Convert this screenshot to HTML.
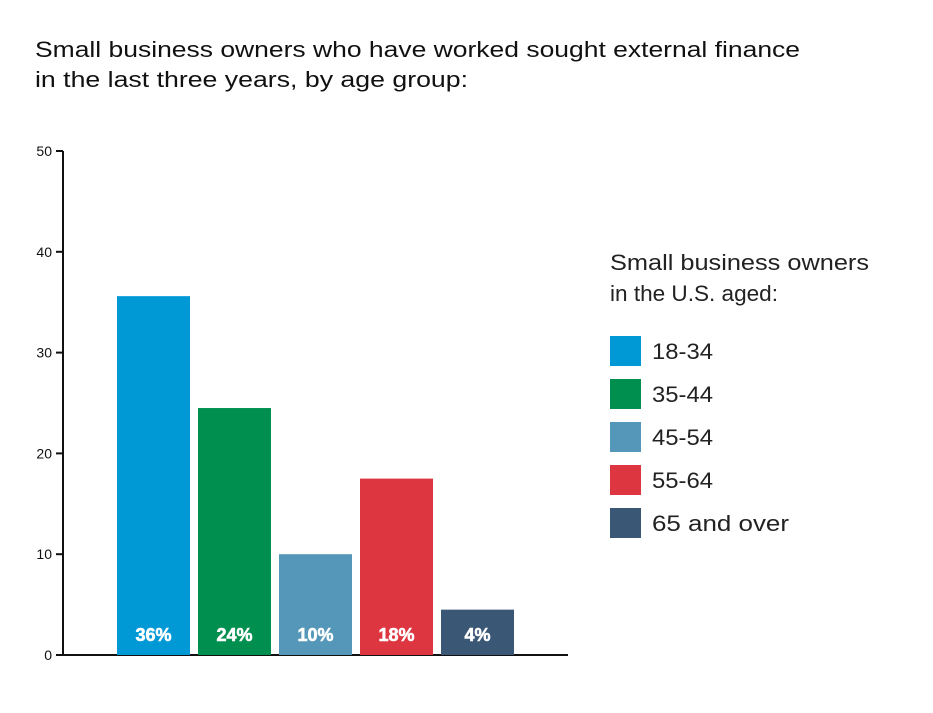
<!DOCTYPE html>
<html><head><meta charset="utf-8"><style>
body{margin:0;background:#fff;width:933px;height:708px;overflow:hidden;font-family:"Liberation Sans",sans-serif}
</style></head><body>
<svg width="933" height="708">
<text x="35" y="57" font-size="22" fill="#111" textLength="765" lengthAdjust="spacingAndGlyphs">Small business owners who have worked sought external finance</text>
<text x="35" y="87" font-size="22" fill="#111" textLength="433" lengthAdjust="spacingAndGlyphs">in the last three years, by age group:</text>
<g id="axes"></g>
<g id="bars"></g>
<text x="610" y="270" font-size="22" fill="#222" textLength="259" lengthAdjust="spacingAndGlyphs">Small business owners</text>
<text x="610" y="301" font-size="22" fill="#222" textLength="168" lengthAdjust="spacingAndGlyphs">in the U.S. aged:</text>
<g id="legend"></g>
</svg>
<script>
const categories=["18-34","35-44","45-54","55-64","65 and over"];
const values=[35.6,24.5,10,17.5,4.5];
const labels=["36%","24%","10%","18%","4%"];
const ticks=[0,10,20,30,40,50];
const colors=["#0099d6","#008f4f","#5497b8","#dd3640","#3b5776"];
const NS="http://www.w3.org/2000/svg";
function mk(t,a,p){const e=document.createElementNS(NS,t);for(const k in a)e.setAttribute(k,a[k]);p.appendChild(e);return e;}
const y=v=>655-v*10.08;
const x=i=>117+i*81;
const ax=document.getElementById('axes');
let l=mk('line',{x1:63,y1:y(50),x2:63,y2:656,stroke:'#111','stroke-width':2},ax);


l=mk('line',{x1:62,y1:655,x2:568,y2:655,stroke:'#111','stroke-width':2},ax);


ticks.forEach(t=>{
 const tk=mk('line',{x1:56,y1:y(t),x2:63,y2:y(t),stroke:'#111','stroke-width':2},ax);
 
 
 const tx=mk('text',{x:52,y:y(t)+5,'font-size':14,'text-anchor':'end',fill:'#111'},ax);
 tx.textContent=t;
 
 
});
const bg=document.getElementById('bars');
values.forEach((v,i)=>{
 const r=mk('rect',{x:x(i),y:y(v),width:73,height:655-y(v),fill:colors[i]},bg);
 
 
 const t=mk('text',{x:x(i)+36.5,y:641,'font-size':18,'font-weight':'bold','text-anchor':'middle',fill:'#fff',stroke:'#fff','stroke-width':0.6},bg);
 t.textContent=labels[i];
 
 
});
const lg=document.getElementById('legend');
categories.forEach((c,i)=>{
 const r=mk('rect',{x:610,y:336+i*43,width:31,height:30,fill:colors[i]},lg);
 
 
 const t=mk('text',{x:652,y:359+i*43,'font-size':22,fill:'#222',textLength:c.length>5?137:61,lengthAdjust:'spacingAndGlyphs'},lg);
 t.textContent=c;
 
 
});
</script>
</body></html>
